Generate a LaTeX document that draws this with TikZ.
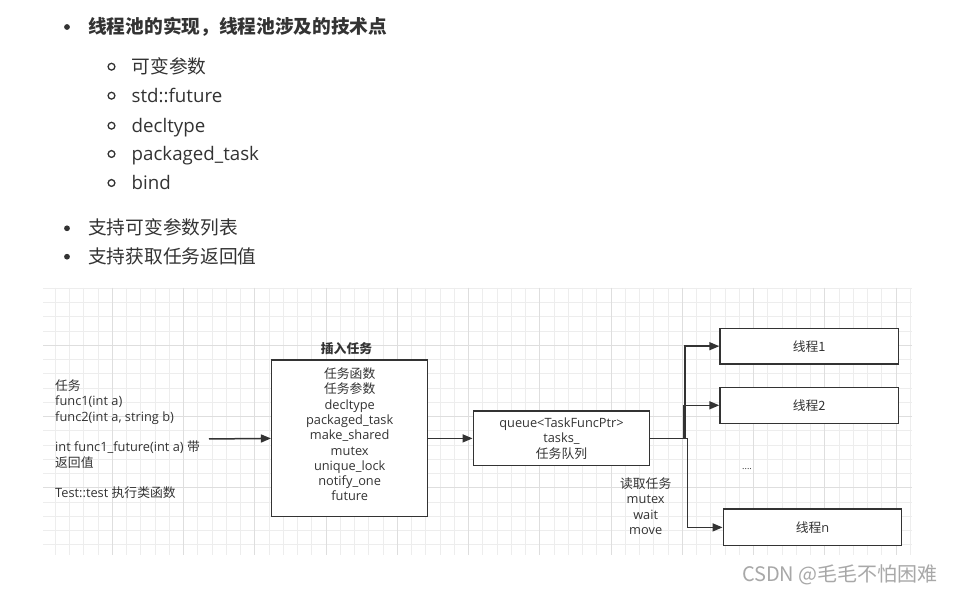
\documentclass[tikz,border=0pt]{standalone}
\usepackage{fontspec}
\setmainfont{Open Sans}
\newfontfamily\cjk{Noto Sans CJK SC}
\newcommand\zh[1]{{\cjk #1}}
\usetikzlibrary{arrows.meta}
\definecolor{txtc}{HTML}{333333}
\definecolor{linec}{HTML}{333333}
\definecolor{gridc}{HTML}{EDEDED}
\definecolor{gridm}{HTML}{DEDEDE}
\definecolor{wmc}{HTML}{A8A8A8}
\tikzset{
  x=1pt, y=-1pt,
  boxst/.style={draw=linec, line width=1.5pt, fill=white, inner sep=0pt},
  dtxt/.style={text=txtc, font=\fontsize{12.8}{15.3}\selectfont, inner sep=0pt},
  htxt/.style={text=txtc, font=\fontsize{18.7}{22}\selectfont, inner sep=0pt, anchor=base west},
  conn/.style={draw=linec, line width=1.5pt, -{Triangle[length=10pt,width=8pt]}},
  gminor/.style={draw=gridc, line width=0.8pt},
  gmajor/.style={draw=gridm, line width=0.9pt},
}
\begin{document}
\begin{tikzpicture}
\useasboundingbox (0,0) rectangle (954,593);
\fill[white] (0,0) rectangle (954,593);
% ---- header list ----
\fill[txtc] (67,27) circle (2.9) coordinate (b1);
\node[htxt, font=\cjk\bfseries\fontsize{18.7}{22}\selectfont] (h1) at (88,33.6) {线程池的实现，线程池涉及的技术点};
\foreach \yy/\nm in {66.7/s1,95.7/s2,125.7/s3,154/s4,183/s5}
  \draw[txtc, line width=1.3pt] (111.5,\yy) circle (3.4);
\node[htxt, font=\cjk\fontsize{18.7}{22}\selectfont] (s1) at (131.5,73.3) {可变参数};
\node[htxt] (s2) at (131.5,102.3) {std::future};
\node[htxt] (s3) at (131.5,132.3) {decltype};
\node[htxt] (s4) at (131.5,160.6) {packaged\_task};
\node[htxt] (s5) at (131.5,189.6) {bind};
\fill[txtc] (67,228.3) circle (2.9);
\fill[txtc] (67,256.7) circle (2.9);
\node[htxt, font=\cjk\fontsize{18.7}{22}\selectfont] (h2) at (88,235) {支持可变参数列表};
\node[htxt, font=\cjk\fontsize{18.7}{22}\selectfont] (h3) at (88,263.5) {支持获取任务返回值};
% ---- grid ----
\begin{scope}
\clip (43,288) rectangle (912,555);
\foreach \i in {-5,...,57} \draw[gminor] ({112.3+\i*14.25},288) -- ({112.3+\i*14.25},555);
\foreach \j in {0,...,19} \draw[gminor] (43,{288.3+\j*14.25}) -- (912,{288.3+\j*14.25});
\foreach \i in {-1,...,11} \draw[gmajor] ({112.3+\i*71.25},288) -- ({112.3+\i*71.25},555);
\foreach \j in {0,...,3} \draw[gmajor] (43,{345.3+\j*71.25}) -- (912,{345.3+\j*71.25});
\end{scope}
% ---- diagram ----
\node[dtxt, align=left, anchor=west] (src) at (55,439.3) {\zh{任务}\\func1(int a)\\func2(int a, string b)\\[15.3pt]int func1\_future(int a) \zh{带}\\\zh{返回值}\\[15.3pt]Test::test \zh{执行类函数}};
\coordinate (a0) at (209,439);
\node[boxst, minimum width=156pt, minimum height=156.7pt] (ins) at (349.7,438.4) {};
\node[dtxt, font=\cjk\bfseries\fontsize{12.8}{15}\selectfont] (insl) at (346.5,349) {插入任务};
\node[dtxt, align=center] (inst) at (349.7,434.4) {\zh{任务函数}\\\zh{任务参数}\\decltype\\packaged\_task\\make\_shared\\mutex\\unique\_lock\\notify\_one\\future};
\node[boxst, minimum width=176pt, minimum height=54.7pt] (q) at (561.3,438.4) {};
\node[dtxt, align=center] (qt) at (561.5,438.6) {queue<TaskFuncPtr>\\tasks\_\\\zh{任务队列}};
\node[boxst, minimum width=178.3pt, minimum height=35.7pt] (t1) at (809.2,346.2) {\zh{\fontsize{12.8}{15}\selectfont\color{txtc}线程1}};
\node[boxst, minimum width=178.3pt, minimum height=36pt] (t2) at (809.2,405.3) {\zh{\fontsize{12.8}{15}\selectfont\color{txtc}线程2}};
\node[boxst, minimum width=178.4pt, minimum height=36.7pt] (tn) at (812.5,527.4) {\zh{\fontsize{12.8}{15}\selectfont\color{txtc}线程}\fontsize{12.8}{15}\selectfont\color{txtc}n};
\node[dtxt, font=\fontsize{9}{10}\selectfont] (dots) at (747,469) {....};
\node[dtxt, align=center] (rd) at (645.7,506.3) {\zh{读取任务}\\mutex\\wait\\move};
\draw[conn] (a0) -- (ins.west);
\draw[conn] (ins.east) -- (q.west);
\draw[conn] (q.east) -- ++(34.7,0) |- (t1.west);
\draw[conn] (q.east) -- ++(33.7,0) |- (t2.west);
\draw[conn] (q.east) -- ++(37.4,0) |- (tn.west);
% ---- watermark ----
\node[text=wmc, font=\cjk\fontsize{20}{24}\selectfont, inner sep=0pt, anchor=east] (wm) at (938,575) {CSDN @毛毛不怕困难};
\end{tikzpicture}
\end{document}
